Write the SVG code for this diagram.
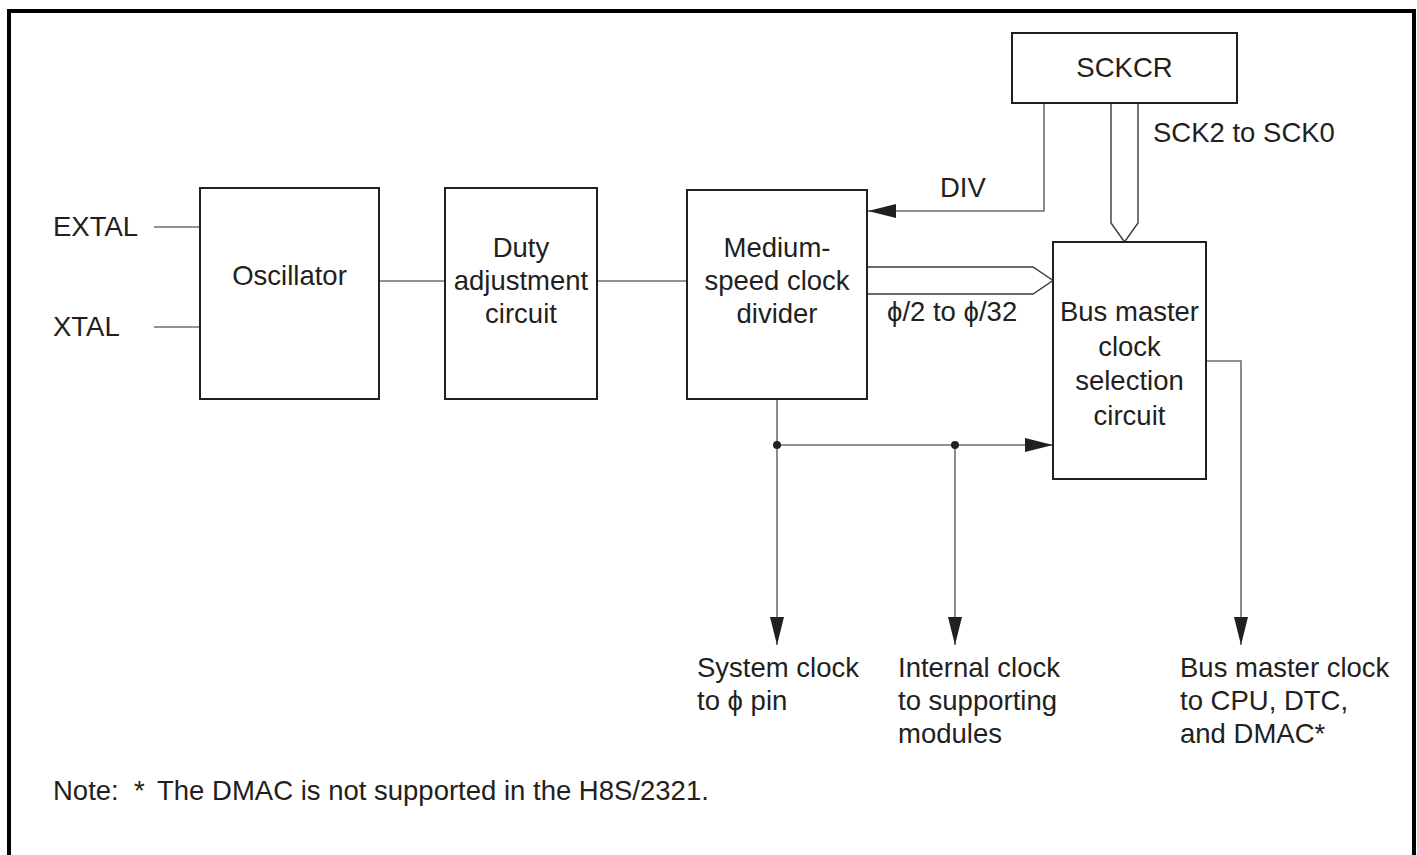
<svg xmlns="http://www.w3.org/2000/svg" width="1417" height="855" viewBox="0 0 1417 855">
<style>
text{font-family:"Liberation Sans",Arial,sans-serif;font-size:27.5px;fill:#231f20}
.c{text-anchor:middle}
.box{fill:#fff;stroke:#231f20;stroke-width:2}
.ln{fill:none;stroke:#6d6e70;stroke-width:1.6}
.bus{fill:#fff;stroke:#3a3a3a;stroke-width:1.4}
</style>
<defs>
<marker id="ah" markerUnits="userSpaceOnUse" markerWidth="28" markerHeight="14" refX="28" refY="7" orient="auto">
<path d="M0,0 L28,7 L0,14 Z" fill="#231f20"/>
</marker>
</defs>
<rect width="1417" height="855" fill="#fff"/>
<path d="M9,855 V11 H1414 V855" fill="none" stroke="#000" stroke-width="4"/>

<g id="connectors">
<line class="ln" x1="154" y1="227" x2="200" y2="227"/>
<line class="ln" x1="154" y1="327" x2="200" y2="327"/>
<line class="ln" x1="379" y1="281" x2="445" y2="281"/>
<line class="ln" x1="597" y1="281" x2="687" y2="281"/>
<polyline class="ln" points="1044,103 1044,211 868,211" marker-end="url(#ah)"/>
<path class="bus" d="M1111,103 V223 L1124.5,242 L1138,223 V103"/>
<path class="bus" d="M867,267 H1033 L1053,280.5 L1033,294 H867"/>
<line class="ln" x1="777" y1="399" x2="777" y2="645" marker-end="url(#ah)"/>
<line class="ln" x1="777" y1="445" x2="1053" y2="445" marker-end="url(#ah)"/>
<line class="ln" x1="955" y1="445" x2="955" y2="645" marker-end="url(#ah)"/>
<polyline class="ln" points="1206,361 1241,361 1241,645" marker-end="url(#ah)"/>
<circle cx="777" cy="445" r="4" fill="#231f20"/>
<circle cx="955" cy="445" r="4" fill="#231f20"/>
<text x="940" y="197">DIV</text>
<text x="1153" y="142">SCK2 to SCK0</text>
<text x="887" y="321">ϕ/2 to ϕ/32</text>
</g>

<g id="extal"><text x="53" y="236">EXTAL</text></g>
<g id="xtal"><text x="53" y="336">XTAL</text></g>

<g id="oscillator">
<rect class="box" x="200" y="188" width="179" height="211"/>
<text class="c" x="289.5" y="285">Oscillator</text>
</g>
<g id="duty">
<rect class="box" x="445" y="188" width="152" height="211"/>
<text class="c" x="521" y="257">Duty</text>
<text class="c" x="521" y="290">adjustment</text>
<text class="c" x="521" y="323">circuit</text>
</g>
<g id="divider">
<rect class="box" x="687" y="190" width="180" height="209"/>
<text class="c" x="777" y="257">Medium-</text>
<text class="c" x="777" y="290">speed clock</text>
<text class="c" x="777" y="323">divider</text>
</g>
<g id="sckcr">
<rect class="box" x="1012" y="33" width="225" height="70"/>
<text class="c" x="1124.5" y="77">SCKCR</text>
</g>
<g id="busmaster">
<rect class="box" x="1053" y="242" width="153" height="237"/>
<text class="c" x="1129.5" y="321">Bus master</text>
<text class="c" x="1129.5" y="356">clock</text>
<text class="c" x="1129.5" y="390">selection</text>
<text class="c" x="1129.5" y="425">circuit</text>
</g>
<g id="out-system">
<text x="697" y="677">System clock</text>
<text x="697" y="710">to ϕ pin</text>
</g>
<g id="out-internal">
<text x="898" y="677">Internal clock</text>
<text x="898" y="710">to supporting</text>
<text x="898" y="743">modules</text>
</g>
<g id="out-bus">
<text x="1180" y="677">Bus master clock</text>
<text x="1180" y="710">to CPU, DTC,</text>
<text x="1180" y="743">and DMAC*</text>
</g>
<g id="note">
<text y="800"><tspan x="53">Note:</tspan><tspan x="134">*</tspan><tspan x="157">The DMAC is not supported in the H8S/2321.</tspan></text>
</g>
</svg>
